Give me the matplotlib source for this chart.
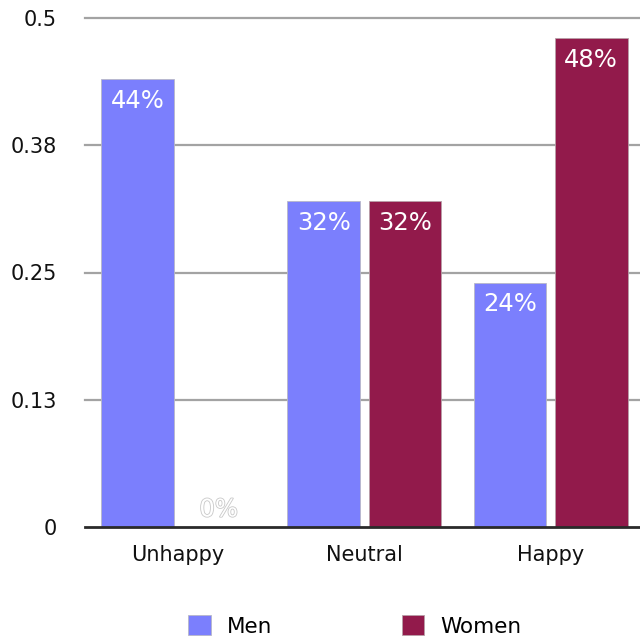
import matplotlib
matplotlib.use("Agg")
import matplotlib.pyplot as plt
import matplotlib.patheffects as pe
import numpy as np

plt.rcParams["font.family"] = ["DejaVu Sans"]

categories = ["Unhappy", "Neutral", "Happy"]
men = [0.44, 0.32, 0.24]
women = [0.0, 0.32, 0.48]
series_names = ["Men", "Women"]
yticks = [0, 0.125, 0.25, 0.375, 0.5]
ytick_labels = ["0", "0.13", "0.25", "0.38", "0.5"]

MEN_COLOR = "#7b7ffd"
WOMEN_COLOR = "#921a4b"

fig = plt.figure(figsize=(6.4, 6.41), dpi=100)
ax = fig.add_axes([85 / 640, 1 - 527 / 641, 1 - 85 / 640, (527 - 18) / 641])

x = np.arange(len(categories))
width = 0.39
offset = 0.218

for yv in yticks[1:]:
    ax.axhline(yv, color="#a3a3a3", lw=1.6, zorder=0, clip_on=False)

bars_m = ax.bar(x - offset, men, width, color=MEN_COLOR, edgecolor="#b8b8c8",
                linewidth=0.6, label=series_names[0], zorder=2)
bars_w = ax.bar(x + offset, women, width, color=WOMEN_COLOR, edgecolor="#b8a0a8",
                linewidth=0.6, label=series_names[1], zorder=2)

ax.axhline(0, color="#2a2a2a", lw=2.0, zorder=3, clip_on=False)

# percentage labels just inside the top of each bar
for bars, vals in ((bars_m, men), (bars_w, women)):
    for b, v in zip(bars, vals):
        cx = b.get_x() + b.get_width() / 2
        if v > 0:
            ax.annotate(f"{v:.0%}", (cx, v), xytext=(0, -7), textcoords="offset points",
                        ha="center", va="top", color="white", fontsize=17.5, zorder=4)
        else:
            t = ax.annotate(f"{v:.0%}", (cx, v), xytext=(0, 4), textcoords="offset points",
                            ha="center", va="bottom", color="white", fontsize=17.5, zorder=4)
            t.set_path_effects([pe.withStroke(linewidth=1.2, foreground="#c8c8c8")])

ax.set_xlim(-0.5, 2.48)
ax.set_ylim(0, 0.5)
ax.set_yticks(yticks)
ax.set_yticklabels(ytick_labels, fontsize=15)
ax.set_xticks(x)
ax.set_xticklabels(categories, fontsize=15)
ax.tick_params(axis="y", length=0, pad=20, labelcolor="#111111")
ax.tick_params(axis="x", length=0, pad=13, labelcolor="#111111")
for s in ax.spines.values():
    s.set_visible(False)

fig.legend(handles=[bars_m, bars_w], labels=series_names, loc="center",
           bbox_to_anchor=(355 / 640, 1 - 626 / 641), ncol=2, frameon=False,
           fontsize=15.5, handlelength=1.05, handleheight=1.05, handletextpad=0.75,
           columnspacing=6.0)

fig.savefig("out.png", dpi=100)
